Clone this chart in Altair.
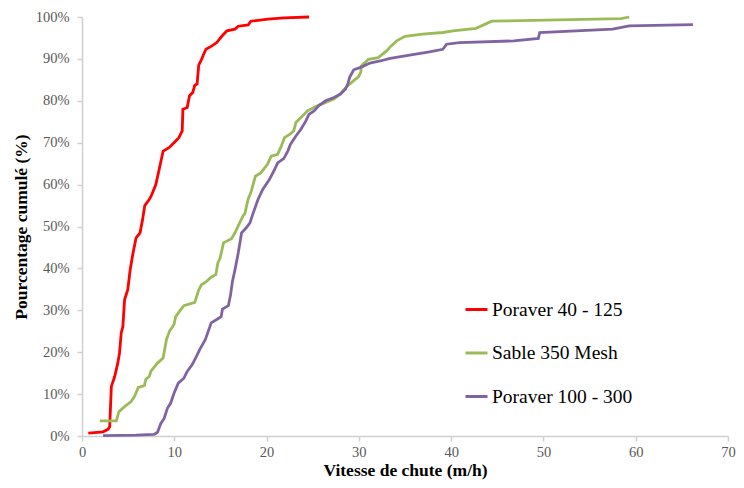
import altair as alt
import pandas as pd

series_names = ["Poraver 40 - 125", "Sable 350 Mesh", "Poraver 100 - 300"]
series_colors = ["#ff0000", "#9bbb59", "#8064a2"]

red_x = [0.68, 2.28, 2.82, 3.0, 3.18, 3.54, 3.89, 4.07, 4.25, 4.43, 4.61, 4.96, 5.22, 5.5, 5.86,
         6.29, 6.57, 6.8, 7.3, 7.5, 8.0, 8.36, 8.79, 9.43, 9.97, 10.5, 10.86, 10.93, 11.4, 11.65,
         12.0, 12.22, 12.47, 12.65, 12.94, 13.18, 13.43, 14.08, 14.6, 15.15, 15.7, 16.58, 16.93,
         18.0, 18.29, 20.15, 21.9, 24.6]
red_y = [0.7, 1.0, 1.6, 2.2, 11.8, 14.2, 17.5, 19.9, 24.6, 26.1, 32.5, 34.9, 39.7, 43.3, 47.3,
         48.5, 51.7, 55.0, 56.5, 57.3, 60.0, 63.6, 68.0, 68.8, 70.0, 71.2, 72.8, 78.0, 78.4, 81.2,
         82.0, 83.7, 84.0, 88.5, 89.8, 91.1, 92.3, 93.1, 93.9, 95.4, 96.7, 97.1, 97.8,
         98.1, 99.0, 99.5, 99.8, 100.0]

green_x = [1.93, 3.72, 4.0, 4.61, 5.32, 5.68, 6.1, 6.75, 6.93, 7.29, 7.47, 8.18, 8.79, 9.15, 9.5,
           9.97, 10.15, 10.68, 11.04, 12.22, 12.65, 12.94, 13.43, 14.0, 14.5, 14.72, 14.97, 15.33,
           16.2, 16.58, 17.0, 17.47, 17.65, 18.0, 18.3, 18.79, 19.37, 20.08, 20.5, 21.2, 21.6,
           21.94, 22.5, 22.94, 23.18, 23.72, 24.44, 25.5, 26.4, 27.3, 28.0, 28.43, 28.8, 29.44,
           29.98, 30.22, 30.26, 31.05, 32.1, 33.0, 33.5, 34.1, 35.0, 36.9, 39.1, 40.2, 42.7, 44.4,
           58.4, 59.3]
green_y = [3.6, 3.6, 5.8, 7.0, 8.2, 9.4, 11.6, 12.0, 13.6, 14.2, 15.5, 17.4, 18.6, 23.0, 25.1,
           26.6, 28.5, 30.1, 31.1, 31.9, 34.9, 36.1, 36.8, 37.9, 38.5, 41.3, 42.5, 46.1,
           47.1, 48.5, 50.5, 52.6, 53.1, 56.5, 58.1, 62.0, 62.8, 64.8, 66.8, 67.2, 69.2,
           71.2, 72.0, 72.8, 74.8, 76.0, 77.6, 78.8, 79.6, 80.4, 81.6, 82.8, 83.6, 84.8,
           85.8, 86.9, 88.3, 89.9, 90.3, 91.9, 93.1, 94.3, 95.4, 95.9, 96.3, 96.7, 97.3, 99.0,
           99.6, 100.0]

purple_x = [2.28, 5.86, 7.82, 8.18, 8.54, 8.9, 9.25, 9.6, 9.97, 10.43, 11.04, 11.4, 11.93, 12.4,
            12.75, 13.36, 14.0, 14.6, 15.08, 15.22, 15.86, 16.1, 16.3, 16.58, 16.93, 17.29, 17.8,
            18.2, 18.5, 19.08, 19.6, 20.3, 20.87, 21.2, 21.86, 22.3, 22.58, 23.18, 23.72, 24.26,
            24.6, 25.15, 25.7, 26.4, 27.3, 28.0, 28.54, 28.8, 29.0, 29.44, 30.33, 31.2, 32.3,
            33.4, 35.5, 37.65, 39.1, 39.5, 40.9, 46.8, 49.45, 49.6, 57.5, 59.3, 66.2]
purple_y = [0.07, 0.2, 0.4, 0.9, 3.0, 4.2, 6.6, 7.8, 10.2, 12.6, 13.8, 15.4, 17.0, 19.0,
            20.6, 23.0, 27.0, 27.8, 28.5, 30.3, 31.1, 33.7, 36.9, 39.7, 43.7, 48.5, 49.7,
            50.9, 52.9, 56.5, 58.9, 61.2, 63.6, 65.2, 66.2, 68.0, 69.6, 71.6, 73.2, 75.2,
            76.8, 77.6, 78.9, 80.0, 80.8, 81.6, 82.8, 84.0, 85.6, 87.4, 88.1, 89.0, 89.5,
            90.1, 90.9, 91.7, 92.3, 93.5, 93.9, 94.3, 94.9, 96.3, 97.1, 97.9, 98.2]

x_ticks = [0, 10, 20, 30, 40, 50, 60, 70]
y_ticks = [0, 10, 20, 30, 40, 50, 60, 70, 80, 90, 100]

rows = []
for name, xs, ys in zip(series_names, [red_x, green_x, purple_x], [red_y, green_y, purple_y]):
    for i, (xv, yv) in enumerate(zip(xs, ys)):
        rows.append({"serie": name, "x": xv, "y": yv, "idx": i})
df = pd.DataFrame(rows)

chart = alt.Chart(df).mark_line(strokeWidth=2.8, interpolate="linear").encode(
    x=alt.X("x:Q", scale=alt.Scale(domain=[0, 70], nice=False),
            axis=alt.Axis(values=x_ticks, title="Vitesse de chute (m/h)", grid=False,
                          labelFlush=False, labelFontSize=14.5, tickSize=5, labelPadding=4,
                          titlePadding=3)),
    y=alt.Y("y:Q", scale=alt.Scale(domain=[0, 100], nice=False),
            axis=alt.Axis(values=y_ticks, title="Pourcentage cumulé (%)", grid=False,
                          labelFlush=False, labelExpr="datum.value + '%'", labelFontSize=14.5,
                          tickSize=5, labelPadding=8, titlePadding=5)),
    color=alt.Color("serie:N", scale=alt.Scale(domain=series_names, range=series_colors),
                    legend=alt.Legend(title=None, orient="none", legendX=382, legendY=280,
                                      symbolType="stroke", symbolSize=484, symbolStrokeWidth=3,
                                      labelFontSize=19.5, labelFont="Liberation Serif",
                                      labelColor="#000000", labelOffset=3, rowPadding=21.5)),
    detail="serie:N",
    order="idx:Q",
).properties(
    width=646,
    height=419,
    autosize=alt.AutoSizeParams(type="none"),
    padding={"left": 74, "top": 9, "right": 8, "bottom": 44},
).configure_view(stroke=None).configure_axis(
    domainColor="#d0d0d0", domainWidth=1.5, tickColor="#d0d0d0", tickWidth=1.5,
    labelFont="Liberation Serif", labelColor="#595959",
    titleFont="Liberation Serif", titleFontWeight="bold", titleFontSize=17.5, titleColor="#000000",
)

chart.save("out.html", embed_options={"renderer": "svg", "actions": False})
